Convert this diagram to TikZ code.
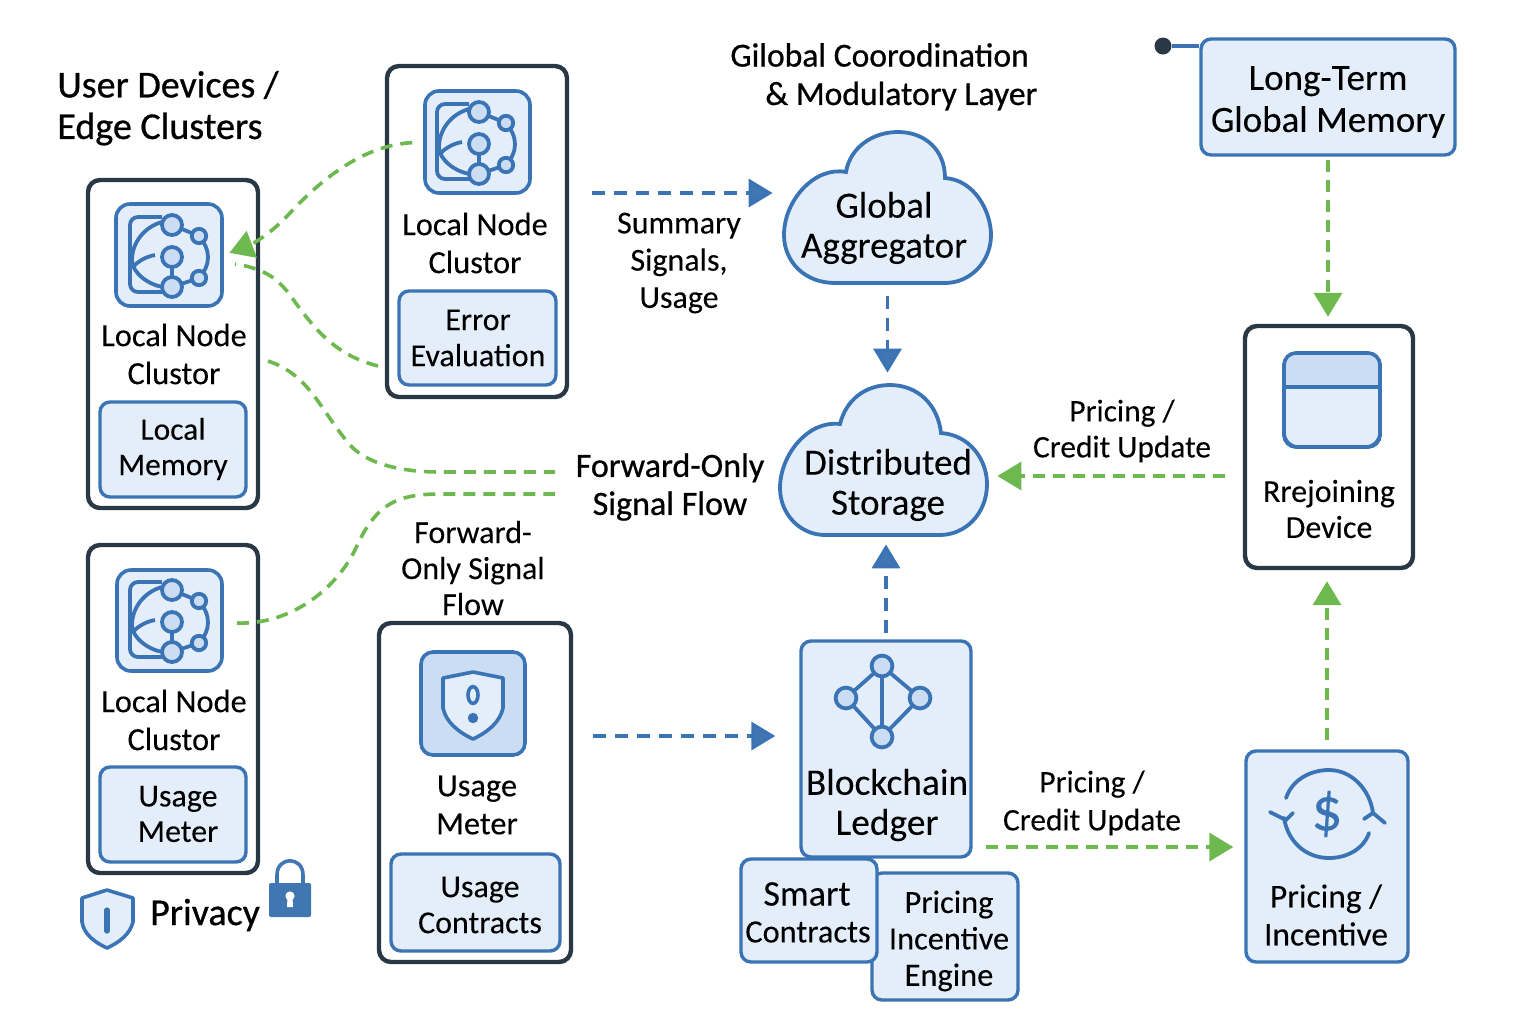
\documentclass[tikz,border=0pt]{standalone}
\usepackage{fontspec}
\setmainfont{Carlito}[FakeBold=0.12]
\newfontfamily\ttlfont{Carlito}[FakeBold=0.7]
\usetikzlibrary{arrows.meta,calc}
\definecolor{bl}{HTML}{3A74B4}
\definecolor{bla}{HTML}{4076B2}
\definecolor{gr}{HTML}{6DB84F}
\definecolor{dk}{HTML}{2A3845}
\definecolor{fl}{HTML}{E4EEFA}
\definecolor{fd}{HTML}{CBDDF2}
\tikzset{
 darkbox/.style={draw=dk,line width=2.2pt,rounded corners=6pt,fill=white,inner sep=0pt},
 bluebox/.style={draw=bl,line width=1.7pt,rounded corners=5pt,fill=fl,inner sep=0pt},
 iconbox/.style={draw=bl,line width=1.8pt,rounded corners=7pt,fill=fl,inner sep=0pt},
 iconboxd/.style={draw=bl,line width=1.8pt,rounded corners=6pt,fill=fd,inner sep=0pt},
 txt/.style={inner sep=0pt,align=center,font=\fontsize{16.2}{19}\selectfont},
 txs/.style={inner sep=0pt,align=center,font=\fontsize{16}{18}\selectfont},
 ttl/.style={inner sep=0pt,align=center,font=\ttlfont\fontsize{19}{20}\selectfont,text=black},
 gline/.style={draw=gr,line width=1.8pt,dash pattern=on 6pt off 4pt},
 bline/.style={draw=bl,line width=1.8pt,dash pattern=on 6.5pt off 4.5pt},
 gtip/.style={-{Triangle[length=12pt,width=14pt,fill=gr]}},
 btip/.style={-{Triangle[length=12pt,width=14pt,fill=bla]}},
 ic/.style={draw=bl,line width=1.9pt},
 icc/.style={draw=bl,line width=1.9pt,fill=fd},
}
\newcommand{\rbox}[6]{\node[#1,minimum width={(#5-#3)*0.5pt},minimum height={(#6-#4)*0.5pt}] (#2) at ({(#3+#5)/2},{(#4+#6)/2}) {};}
\newcommand{\clustericon}[2]{\begin{scope}[shift={(#1,#2)}]
 \draw[ic,rounded corners=4pt] (-7,-38) -- (-39,-38) -- (-39,37) -- (-6,37);
 \draw[ic] (-7,-33) .. controls (-25,-28) and (-37,-12) .. (-37,5) .. controls (-37,18) and (-20,30) .. (-6,32);
 \draw[ic] (-14,0) .. controls (-25,2) and (-33,8) .. (-37,13);
 \draw[ic] (3,-30) -- (30,-19) .. controls (42,-5) and (42,10) .. (30,23) -- (3,32) -- (3,2);
 \filldraw[icc] (3,-30) circle (5pt);
 \filldraw[icc] (3,2) circle (5pt);
 \filldraw[icc] (3,32) circle (5pt);
 \filldraw[icc] (30,-19) circle (3.6pt);
 \filldraw[icc] (30,23) circle (3.6pt);
\end{scope}}
\begin{document}
\begin{tikzpicture}[x=0.5pt,y=-0.5pt]
\useasboundingbox (0,0) rectangle (1536,1024);
% dark containers
\rbox{darkbox}{boxa}{88}{180}{258}{508}
\rbox{darkbox}{boxb}{387}{66}{567}{397}
\rbox{darkbox}{boxc}{88}{545}{258}{873}
\rbox{darkbox}{boxd}{379}{623}{571}{962}
\rbox{darkbox}{rejoin}{1245}{326}{1413}{568}
% icon tiles
\rbox{iconbox}{icona}{116}{204}{222}{306}
\rbox{iconbox}{iconb}{425}{91}{530}{193}
\rbox{iconbox}{iconc}{117}{570}{222}{671}
\rbox{iconboxd}{icond}{421}{652}{525}{755}
\clustericon{169}{255}
\clustericon{476}{142}
\clustericon{169}{620}
% sub boxes
\rbox{bluebox}{memo}{100}{402}{246}{497}
\rbox{bluebox}{errev}{399}{291}{556}{385}
\rbox{bluebox}{umeter}{100}{767}{246}{862}
\rbox{bluebox}{ucontr}{391}{854}{560}{951}
\rbox{bluebox}{longterm}{1201}{39}{1455}{155}
\rbox{bluebox}{ledger}{801}{641}{971}{857}
\rbox{bluebox}{engine}{872}{873}{1018}{1000}
\rbox{bluebox}{smart}{741}{859}{877}{962}
\rbox{bluebox}{pricing}{1246}{751}{1408}{962}
% clouds
\begin{scope}[line width=1.9pt]
\filldraw[draw=bl,fill=fl] (846,172) .. controls (850,148) and (872,132) .. (898,132) .. controls (925,132) and (945,150) .. (945,178) .. controls (975,180) and (991,212) .. (991,235) .. controls (991,262) and (970,283) .. (945,283) -- (835,283) .. controls (805,283) and (784,262) .. (784,235) .. controls (784,200) and (815,166) .. (846,172) -- cycle;
\filldraw[draw=bl,fill=fl] (840,424) .. controls (846,400) and (865,385) .. (890,385) .. controls (918,385) and (938,405) .. (941,433) .. controls (970,435) and (987,460) .. (987,484) .. controls (987,514) and (965,535) .. (940,535) -- (825,535) .. controls (800,535) and (780,514) .. (780,488) .. controls (780,455) and (808,420) .. (840,424) -- cycle;
\end{scope}
\node[inner sep=0pt,minimum width=103.5pt,minimum height=75.5pt] (aggr) at (887.5,207.5) {};
\node[inner sep=0pt,minimum width=103.5pt,minimum height=75pt] (store) at (883.5,460) {};
% shield in tile
\filldraw[draw=bl,line width=1.8pt,fill=fl,line join=round] (473,672) -- (503,678) -- (503,708) .. controls (500,722) and (488,732) .. (473,739) .. controls (458,732) and (446,722) .. (443,708) -- (443,678) -- cycle;
\draw[bl,line width=1.8pt] (473,695) ellipse (2.5pt and 4.2pt);
\fill[bl] (473,718) circle (2.6pt);
% rejoin icon
\rbox{iconbox}{rejicon}{1284}{353}{1380}{447}
\begin{scope}
\fill[fd,rounded corners=6pt] (1285,354) -- (1379,354) -- (1379,387) -- (1285,387) -- cycle;
\fill[fd] (1285,375) rectangle (1379,387);
\draw[bl,line width=1.8pt,rounded corners=6pt] (1284,353) rectangle (1380,447);
\draw[bl,line width=1.8pt] (1284,387) -- (1380,387);
\end{scope}
% ledger network
\coordinate (na) at (882,666);
\coordinate (nb) at (846,698);
\coordinate (nc) at (920,698);
\coordinate (nd) at (882,737);
\draw[ic] (na) -- (nb) -- (nd) -- (nc) -- (na) -- (nd);
\filldraw[icc] (na) circle (5.2pt);
\filldraw[icc] (nb) circle (5.2pt);
\filldraw[icc] (nc) circle (5.2pt);
\filldraw[icc] (nd) circle (5.2pt);
% dollar icon
\draw[ic,line cap=round] (1286,798) .. controls (1292,780) and (1310,770) .. (1329,770) .. controls (1352,770) and (1370,790) .. (1373,813);
\draw[ic,line cap=round] (1284,818) .. controls (1288,842) and (1306,858) .. (1329,858) .. controls (1348,858) and (1364,848) .. (1369,833);
\draw[ic,line cap=round] (1270,812) -- (1286,820) -- (1293,813) (1286,820) -- (1284,818);
\draw[ic,line cap=round] (1364,819) -- (1373,813) -- (1385,823);
\node[inner sep=0pt,text=bl,font=\fontsize{31}{31}\selectfont] (dollar) at (1327,814) {\$};
% lock
\draw[bla,line width=1.8pt] (277,884) -- (277,875) .. controls (277,856) and (303,856) .. (303,875) -- (303,884);
\fill[bla,rounded corners=1pt] (269,883) rectangle (311,917);
\fill[white] (290,896) circle (2.3pt);
\fill[white] (287.5,897) -- (292.5,897) -- (293,907) -- (287,907) -- cycle;
% privacy shield
\filldraw[draw=bl,line width=1.8pt,fill=fl,line join=round] (107,890) -- (133,898) -- (133,922) .. controls (130,934) and (120,942) .. (107,948) .. controls (94,942) and (84,934) .. (82,922) -- (82,898) -- cycle;
\draw[bl,line width=2.6pt,line cap=round] (107,910) -- (107,931);
% dot and line
\node[circle,fill=dk,inner sep=0pt,minimum size=8.5pt] (dot) at (1163,46) {};
\draw[bl,line width=1.7pt] (dot.east) -- (longterm.west |- dot.east);
% text
\node[ttl,anchor=west] (t1) at (57,85) {User Devices /};
\node[ttl,anchor=west] (t2) at (57,129) {Edge Clusters};
\node[ttl,anchor=west,font=\ttlfont\fontsize{16.8}{20}\selectfont] (t3) at (730,55) {Gilobal Coorodination};
\node[ttl,anchor=west,font=\ttlfont\fontsize{16.8}{20}\selectfont] (t4) at (765,96) {\& Modulatory Layer};
\node[txt] (la) at (174,354) {Local Node\\Clustor};
\node[txt] (lb) at (475,243) {Local Node\\Clustor};
\node[txt] (lc) at (174,720) {Local Node\\Clustor};
\node[txs,font=\fontsize{15.7}{17.7}\selectfont] at (173,449) {Local\\Memory};
\node[txs] at (478,338) {Error\\Evaluation};
\node[txs,font=\fontsize{16}{17.7}\selectfont] at (178,814) {Usage\\Meter};
\node[txt] at (477,805) {Usage\\Meter};
\node[txs] at (480,905) {Usage\\Contracts};
\node[txs] at (473,568) {Forward-\\Only Signal\\Flow};
\node[ttl,font=\ttlfont\fontsize{17}{19}\selectfont] (fwd) at (670,487) {Forward-Only\\Signal Flow};
\node[txs,font=\fontsize{16}{18.6}\selectfont] at (679,263) {Summary\\Signals,\\Usage};
\node[txt,font=\fontsize{18.5}{20}\selectfont] at (884,228) {Global\\Aggregator};
\node[txt,font=\fontsize{18.5}{20}\selectfont] at (888,485) {Distributed\\Storage};
\node[txt,font=\fontsize{18.5}{21}\selectfont] at (1328,102) {Long-Term\\Global Memory};
\node[txs] at (1329,509) {Rrejoining\\Device};
\node[txs,font=\fontsize{15.7}{18}\selectfont] at (1122,431) {Pricing /\\Credit Update};
\node[txs,font=\fontsize{15.7}{19}\selectfont] at (1092,803) {Pricing /\\Credit Update};
\node[txt,font=\fontsize{18.7}{20}\selectfont] at (887,805) {Blockchain\\Ledger};
\node[txt,font=\fontsize{18}{19}\selectfont] at (807,894) {Smart};
\node[txt] at (808,932) {Contracts};
\node[txs,font=\fontsize{16.2}{18.2}\selectfont] at (949,941) {Pricing\\Incentive\\Engine};
\node[txt,font=\fontsize{16.7}{19}\selectfont] at (1326,915) {Pricing /\\Incentive};
\node[ttl] (priv) at (205,915) {Privacy};
% connectors
\coordinate (ya) at (0,193);
\coordinate (yb) at (0,736);
\coordinate (yc) at (0,476);
\coordinate (yd) at (0,847);
\draw[bline,btip,shorten <=11.5pt,shorten >=5.5pt] (boxb.east |- ya) -- (aggr.west |- ya);
\draw[bline,btip,shorten <=6.5pt,shorten >=6pt] (aggr.south) -- (aggr.south |- store.north);
\draw[bline,btip,shorten <=3pt,shorten >=4.5pt] (ledger.north) -- (ledger.north |- store.south);
\draw[bline,btip,shorten <=10pt,shorten >=12pt] (boxd.east |- yb) -- (ledger.west |- yb);
\draw[gline,gtip,shorten <=1.5pt,shorten >=3.5pt] (longterm.south) -- (longterm.south |- rejoin.north);
\draw[gline,gtip,shorten <=9pt,shorten >=5pt] (rejoin.west |- yc) -- (store.east |- yc);
\draw[gline,gtip,shorten <=4.5pt,shorten >=5.5pt] (pricing.north) -- (pricing.north |- rejoin.south);
\draw[gline,gtip,shorten <=6.5pt,shorten >=5.5pt] (ledger.east |- yd) -- (pricing.west |- yd);
\coordinate (ca) at (378,366);
\coordinate (cb) at (235,264);
\coordinate (cc) at (268,361);
\coordinate (cd) at (555,472);
\coordinate (ce) at (237,623);
\coordinate (cf) at (555,494);
\draw[gline,gtip,shorten <=5.5pt,shorten >=3pt] (iconb.west) .. controls (370,145) and (330,170) .. (290,213) .. controls (270,235) and (250,245) .. (icona.east);
\draw[gline] (ca) .. controls (335,355) and (315,330) .. (290,295) .. controls (275,275) and (260,268) .. (cb);
\draw[gline] (cc) .. controls (310,375) and (320,410) .. (350,445) .. controls (370,467) and (410,472) .. (440,472) -- (cd);
\draw[gline] (ce) .. controls (290,625) and (335,590) .. (355,550) .. controls (375,505) and (395,494) .. (440,494) -- (cf);
\end{tikzpicture}
\end{document}
